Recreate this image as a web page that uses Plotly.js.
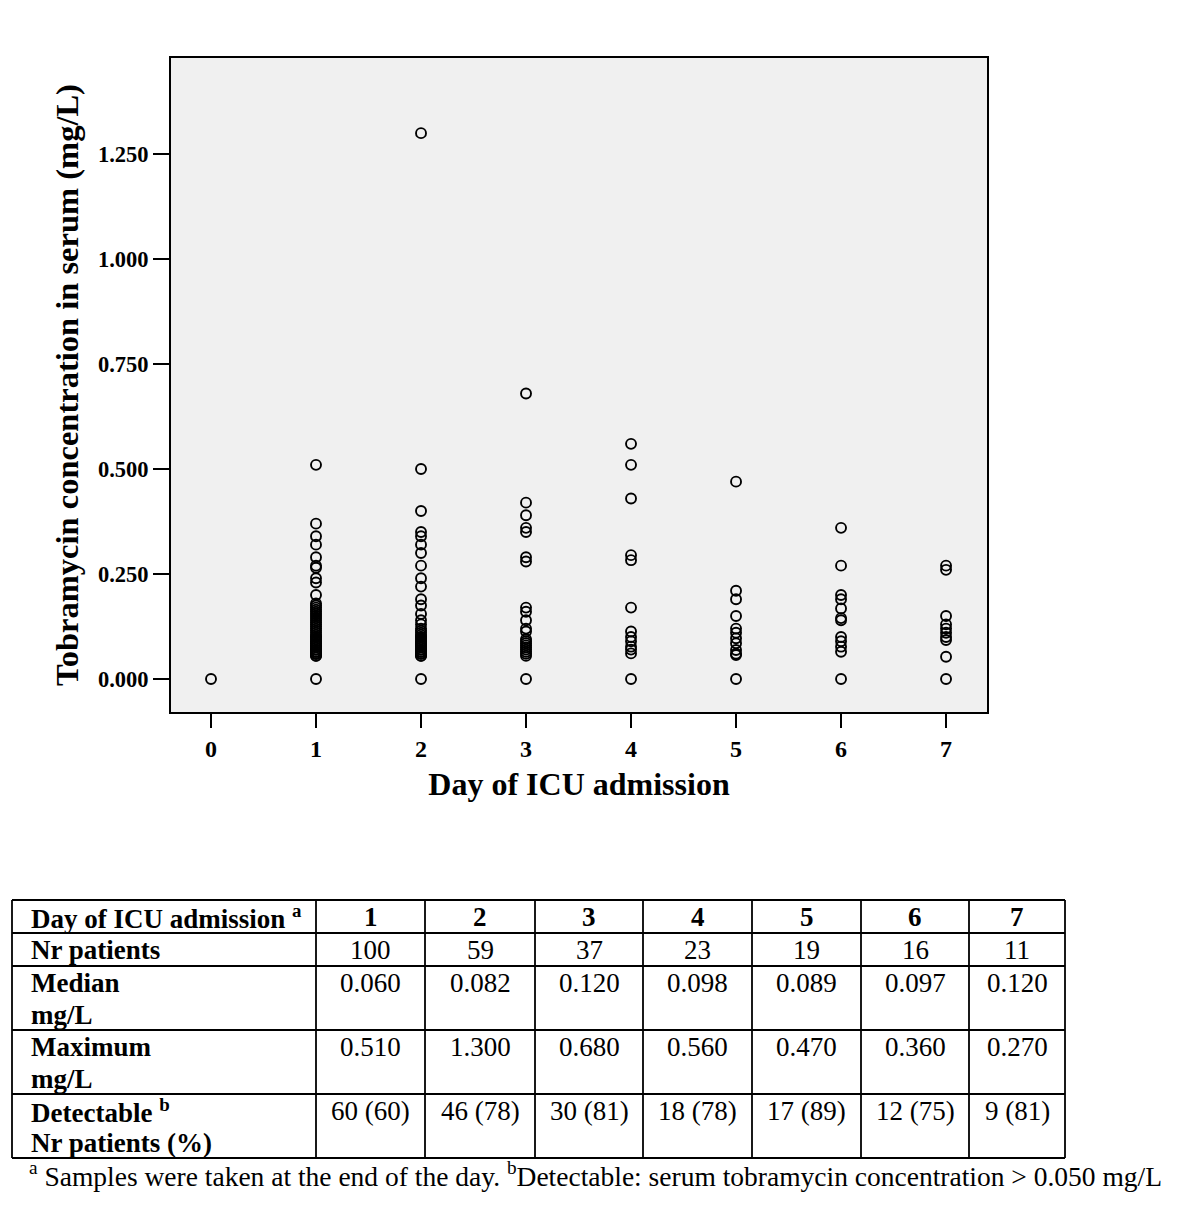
<!DOCTYPE html>
<html><head><meta charset="utf-8">
<script src="https://cdn.plot.ly/plotly-3.0.1.min.js"></script>
<style>html,body{margin:0;padding:0;background:#fff}#chart{width:1200px;height:1218px}</style>
</head><body><div id="chart"></div>
<script>
// ---------- data ----------
const days = [0, 1, 2, 3, 4, 5, 6, 7];
const day0 = [0];
const day1 = [0.51, 0.37, 0.34, 0.32, 0.29, 0.27, 0.265, 0.24, 0.23, 0.20,
  0.18, 0.175, 0.17, 0.165, 0.16, 0.155, 0.15, 0.145, 0.14, 0.135, 0.13, 0.125, 0.12,
  0.115, 0.11, 0.105, 0.10, 0.10, 0.095, 0.09, 0.09, 0.085, 0.08, 0.08, 0.075, 0.07,
  0.07, 0.065, 0.065, 0.06, 0.06, 0.06, 0.055, 0.055, 0];
const day2 = [1.30, 0.50, 0.40, 0.35, 0.34, 0.32, 0.30, 0.27, 0.24, 0.22, 0.19, 0.175, 0.155,
  0.14, 0.13, 0.12, 0.115, 0.11, 0.105, 0.10, 0.10, 0.095, 0.09, 0.09, 0.085, 0.082, 0.08,
  0.08, 0.075, 0.07, 0.07, 0.065, 0.065, 0.06, 0.06, 0.055, 0.055, 0];
const day3 = [0.68, 0.42, 0.39, 0.36, 0.35, 0.29, 0.28, 0.17, 0.16, 0.14, 0.12, 0.113,
  0.095, 0.09, 0.085, 0.08, 0.075, 0.07, 0.065, 0.06, 0.055, 0];
const day4 = [0.56, 0.51, 0.43, 0.295, 0.283, 0.17, 0.113, 0.10, 0.09, 0.077, 0.07, 0.061, 0];
const day5 = [0.47, 0.21, 0.19, 0.15, 0.12, 0.11, 0.097, 0.085, 0.069, 0.06, 0.057, 0];
const day6 = [0.36, 0.27, 0.20, 0.19, 0.168, 0.145, 0.14, 0.10, 0.09, 0.077, 0.065, 0];
const day7 = [0.27, 0.26, 0.15, 0.13, 0.12, 0.11, 0.10, 0.093, 0.053, 0];
const dayValues = [day0, day1, day2, day3, day4, day5, day6, day7];

const yTickVals = [0, 0.25, 0.5, 0.75, 1.0, 1.25];
const yTickText = ['0.000', '0.250', '0.500', '0.750', '1.000', '1.250'];
const xTickVals = [0, 1, 2, 3, 4, 5, 6, 7];
const xTickText = ['0', '1', '2', '3', '4', '5', '6', '7'];

const tableHeaderLabel = 'Day of ICU admission <sup>a</sup>';
const tableDays = ['1', '2', '3', '4', '5', '6', '7'];
const rowLabels = [['Nr patients'], ['Median', 'mg/L'], ['Maximum', 'mg/L'], ['Detectable <sup>b</sup>', 'Nr patients (%)']];
const nrPatients = ['100', '59', '37', '23', '19', '16', '11'];
const medians = ['0.060', '0.082', '0.120', '0.098', '0.089', '0.097', '0.120'];
const maxima = ['0.510', '1.300', '0.680', '0.560', '0.470', '0.360', '0.270'];
const detectable = ['60 (60)', '46 (78)', '30 (81)', '18 (78)', '17 (89)', '12 (75)', '9 (81)'];
const footnote = '<sup>a</sup> Samples were taken at the end of the day. <sup>b</sup>Detectable: serum tobramycin concentration &gt; 0.050 mg/L';

// ---------- layout geometry (pixels) ----------
const W = 1200, H = 1218;
const PL = 171, PR = 987, PT = 58, PB = 712;
const colEdges = [12, 316, 425, 535, 643, 752, 861, 969, 1065];
const rowEdges = [900, 933, 966, 1030, 1094, 1158];
const lineGap = 32, firstLine = 17;
const FONT = 'Liberation Serif, Times New Roman, serif';

const px = v => (v - PL) / (PR - PL);
const py = v => (PB - v) / (PB - PT);

// ---------- scatter ----------
const xs = [], ys = [];
dayValues.forEach((arr, i) => arr.forEach(v => { xs.push(days[i]); ys.push(v); }));

const trace = {
  type: 'scatter', mode: 'markers', x: xs, y: ys, showlegend: false, hoverinfo: 'x+y',
  marker: { symbol: 'circle-open', size: 10, color: '#000', line: { width: 1.9, color: '#000' } }
};

// ---------- table ----------
const shapes = [];
const annotations = [];
const lineStyle = { color: '#000', width: 1.8 };
rowEdges.forEach(r => shapes.push({ type: 'line', xref: 'paper', yref: 'paper',
  x0: px(colEdges[0]), x1: px(colEdges[colEdges.length - 1]), y0: py(r), y1: py(r), line: lineStyle }));
colEdges.forEach(c => shapes.push({ type: 'line', xref: 'paper', yref: 'paper',
  x0: px(c), x1: px(c), y0: py(rowEdges[0]), y1: py(rowEdges[rowEdges.length - 1]), line: lineStyle }));

function cellText(text, col, rowTop, lineIdx, bold) {
  const left = col === 0;
  const x = left ? colEdges[0] + 17 : (colEdges[col] + colEdges[col + 1]) / 2;
  annotations.push({
    xref: 'paper', yref: 'paper', x: px(x), y: py(rowTop + firstLine + lineGap * lineIdx),
    xanchor: left ? 'left' : 'center', yanchor: 'middle', showarrow: false, text: text,
    font: { family: FONT, size: 27, color: '#000', weight: bold ? 'bold' : 'normal' }
  });
}
cellText(tableHeaderLabel, 0, rowEdges[0], 0, true);
tableDays.forEach((d, i) => cellText(d, i + 1, rowEdges[0], 0, true));
const bodyRows = [nrPatients, medians, maxima, detectable];
bodyRows.forEach((vals, r) => {
  rowLabels[r].forEach((lab, li) => cellText(lab, 0, rowEdges[r + 1], li, true));
  vals.forEach((v, i) => cellText(v, i + 1, rowEdges[r + 1], 0, false));
});
annotations.push({
  xref: 'paper', yref: 'paper', x: px(27), y: py(1174), xanchor: 'left', yanchor: 'middle',
  showarrow: false, text: footnote, font: { family: FONT, size: 27.5, color: '#000' }
});

const layout = {
  width: W, height: H,
  margin: { l: PL, r: W - PR, t: PT, b: H - PB, pad: 0 },
  paper_bgcolor: '#fff', plot_bgcolor: '#f0f0f0',
  font: { family: FONT, color: '#000' },
  xaxis: {
    range: [-0.381, 7.39], tickvals: xTickVals, ticktext: xTickText,
    ticks: 'outside', ticklen: 14, tickwidth: 2, tickcolor: '#000',
    showline: true, mirror: true, linewidth: 2, linecolor: '#000',
    showgrid: false, zeroline: false,
    tickfont: { family: FONT, size: 24, weight: 'bold', color: '#000' },
    title: { text: 'Day of ICU admission', standoff: 12, font: { family: FONT, size: 32, weight: 'bold', color: '#000' } }
  },
  yaxis: {
    range: [-0.0786, 1.479], tickvals: yTickVals, ticktext: yTickText,
    ticks: 'outside', ticklen: 16, tickwidth: 2, tickcolor: '#000',
    showline: true, mirror: true, linewidth: 2, linecolor: '#000',
    showgrid: false, zeroline: false,
    tickfont: { family: FONT, size: 22.5, weight: 'bold', color: '#000' },
    title: { text: 'Tobramycin concentration in serum (mg/L)', standoff: 10, font: { family: FONT, size: 32.5, weight: 'bold', color: '#000' } }
  },
  shapes: shapes,
  annotations: annotations
};

Plotly.newPlot('chart', [trace], layout, { displayModeBar: false, staticPlot: true });
</script>
</body></html>
